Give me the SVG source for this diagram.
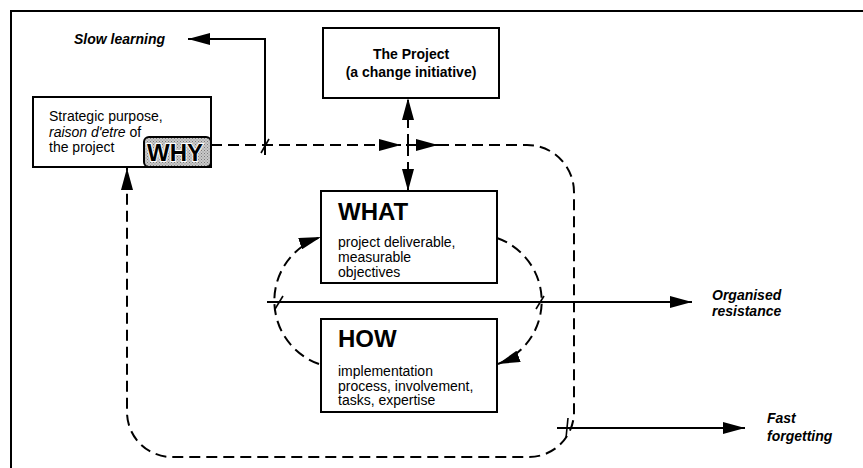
<svg xmlns="http://www.w3.org/2000/svg" width="863" height="468" viewBox="0 0 863 468">
  <style>
    text { font-family: "Liberation Sans", Arial, sans-serif; fill: #000; }
    .body { font-size: 14px; }
    .bold { font-weight: bold; }
    .label { font-size: 14px; font-weight: bold; font-style: italic; }
    .head { font-size: 24px; font-weight: bold; }
    .box { fill: #fff; stroke: #000; stroke-width: 2; }
    .dash { fill: none; stroke: #000; stroke-width: 2; stroke-dasharray: 11 6; }
    .solid { fill: none; stroke: #000; stroke-width: 2; }
    .tick { fill: none; stroke: #000; stroke-width: 1.6; }
  </style>
  <defs>
    <marker id="arrow" markerUnits="userSpaceOnUse" markerWidth="22" markerHeight="12" refX="22" refY="6" orient="auto" viewBox="0 0 22 12">
      <path d="M0,0 L22,6 L0,12 z" fill="#000"/>
    </marker>
    <pattern id="stipple" width="3" height="3" patternUnits="userSpaceOnUse">
      <rect width="3" height="3" fill="#c9c9c9"/>
      <rect x="0" y="0" width="1" height="1" fill="#7a7a7a"/>
      <rect x="1.5" y="1.5" width="1" height="1" fill="#8a8a8a"/>
    </pattern>
  </defs>

  <!-- outer frame (top and left edges) -->
  <path d="M11 468 L11 11 L863 11" fill="none" stroke="#000" stroke-width="2"/>

  <!-- connectors -->
  <g id="connectors">
    <!-- slow learning branch -->
    <path class="solid" d="M265 155 L265 39 L188 39" marker-end="url(#arrow)"/>
    <!-- WHY feeds the project -->
    <path class="dash" d="M211 145 L401 145" marker-end="url(#arrow)"/>
    <path class="solid" d="M406 145 L438 145" marker-end="url(#arrow)"/>
    <!-- project to WHAT -->
    <path class="dash" d="M408 145 L408 98" marker-end="url(#arrow)"/>
    <path class="dash" d="M408 145 L408 191" marker-end="url(#arrow)"/>
    <!-- outer feedback loop back to WHY -->
    <path class="dash" d="M438 145 L527 145 A47 47 0 0 1 574 192 L574 412 A45 45 0 0 1 529 457 L172 457 A45 45 0 0 1 127 412 L127 168" marker-end="url(#arrow)"/>
    <!-- inner WHAT / HOW cycle -->
    <path class="dash" d="M319 364 A67 67 0 0 1 321 237" marker-end="url(#arrow)"/>
    <path class="dash" d="M497 238 A67 67 0 0 1 498 364" marker-end="url(#arrow)"/>
    <!-- organised resistance -->
    <path class="solid" d="M267 302 L692 302" marker-end="url(#arrow)"/>
    <!-- fast forgetting -->
    <path class="solid" d="M557 428 L745 428" marker-end="url(#arrow)"/>
    <!-- crossing ticks -->
    <path class="tick" d="M269 139 L261 153"/>
    <path class="tick" d="M283 296 L275 309"/>
    <path class="tick" d="M544 296 L536 309"/>
    <path class="tick" d="M568 418 L566 438"/>
  </g>

  <!-- labels on the connectors -->
  <g id="slow-learning">
    <text class="label" x="74" y="44">Slow learning</text>
  </g>
  <g id="organised-resistance">
    <text class="label" x="712" y="300">Organised</text>
    <text class="label" x="712" y="316">resistance</text>
  </g>
  <g id="fast-forgetting">
    <text class="label" x="767" y="423">Fast</text>
    <text class="label" x="767" y="441">forgetting</text>
  </g>

  <!-- WHY: strategic purpose -->
  <g id="why">
    <rect class="box" x="33" y="97" width="178" height="70"/>
    <text class="body" x="49" y="121">Strategic purpose,</text>
    <text class="body" x="49" y="137"><tspan font-style="italic">raison d'etre</tspan> of</text>
    <text class="body" x="49" y="152">the project</text>
    <rect x="144" y="137" width="67" height="30" rx="5" fill="url(#stipple)" stroke="#000" stroke-width="2"/>
    <text class="head" x="147" y="161" font-size="25" stroke="#fff" stroke-width="2" paint-order="stroke">WHY</text>
  </g>

  <!-- the project -->
  <g id="project">
    <rect class="box" x="323" y="28" width="176" height="70"/>
    <text class="body bold" x="411" y="59" text-anchor="middle">The Project</text>
    <text class="body bold" x="411" y="77" text-anchor="middle">(a change initiative)</text>
  </g>

  <!-- WHAT -->
  <g id="what">
    <rect class="box" x="321" y="191" width="176" height="92"/>
    <text class="head" x="338" y="220">WHAT</text>
    <text class="body" x="338" y="247">project deliverable,</text>
    <text class="body" x="338" y="262">measurable</text>
    <text class="body" x="338" y="277">objectives</text>
  </g>

  <!-- HOW -->
  <g id="how">
    <rect class="box" x="321" y="319" width="176" height="93"/>
    <text class="head" x="338" y="347">HOW</text>
    <text class="body" x="338" y="376">implementation</text>
    <text class="body" x="338" y="390.5">process, involvement,</text>
    <text class="body" x="338" y="405">tasks, expertise</text>
  </g>
</svg>
